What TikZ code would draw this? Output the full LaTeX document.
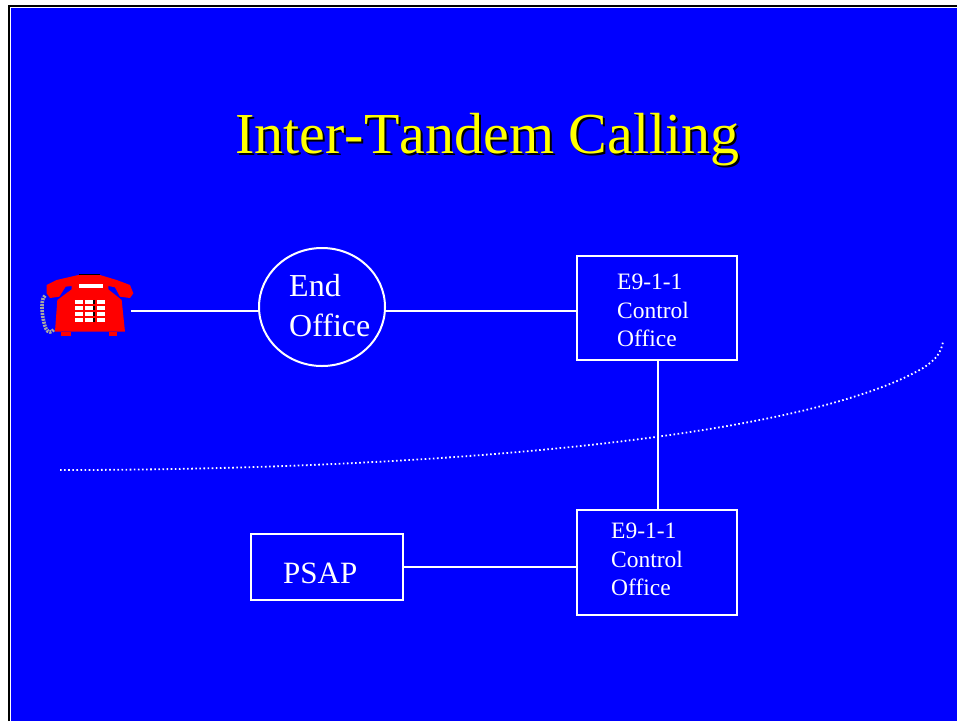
\documentclass[tikz,border=0pt]{standalone}
\usepackage{fontspec}
\setmainfont{Liberation Serif}
\newfontfamily\titlefont[Kerning=Off]{Liberation Serif}
\usetikzlibrary{shapes.geometric}

\definecolor{slideblue}{RGB}{0,0,255}
\definecolor{phonered}{RGB}{255,0,0}
\definecolor{titleyellow}{RGB}{255,255,0}

\tikzset{
    officebox/.style={draw=white, line width=2pt, inner sep=0pt},
    wire/.style={draw=white, line width=2pt},
    titletext/.style={font=\titlefont\fontsize{58}{60}\selectfont, anchor=base, inner sep=0pt},
    boxlabel/.style={text=white, font=\fontsize{23.5}{28.2}\selectfont, align=left, anchor=west, inner sep=0pt},
    biglabel/.style={text=white, font=\fontsize{32}{40}\selectfont, align=left, anchor=west, inner sep=0pt}
}

\begin{document}
\begin{tikzpicture}[x=1pt, y=-1pt]
    % Set box dimensions
    \pgfmathsetmacro{\boxwidth}{160}
    \pgfmathsetmacro{\boxheight}{104}

    \useasboundingbox (0,0) rectangle (957,721);

    % Draw slide background and frame
    \fill[white] (0,0) rectangle (957,721);
    \fill[slideblue] (11,8) rectangle (957,721);
    \draw[black, line width=2pt] (9,721) -- (9,6) -- (957,6);

    % Draw title with its shadow
    \node[titletext, text=black] at (489.5,155) (titleshadow) {Inter-Tandem Calling};
    \node[titletext, text=titleyellow] at (487.5,153) (title) {Inter-Tandem Calling};

    % Draw office shapes
    \node[officebox, ellipse, minimum width=126pt, minimum height=118pt] at (322,307) (endoffice) {};
    \node[officebox, minimum width=\boxwidth pt, minimum height=\boxheight pt] at (657,307.7) (upper) {};
    \node[officebox, minimum width=\boxwidth pt, minimum height=105pt] at (657,562.7) (lower) {};
    \node[officebox, minimum width=152pt, minimum height=66pt] at (327,567) (psap) {};

    % Draw labels inside the shapes
    \node[biglabel] at (289,306) (endlabel) {End\\Office};
    \node[boxlabel] at (617,310.5) (upperlabel) {E9-1-1\\Control\\Office};
    \node[boxlabel] at (611,559.5) (lowerlabel) {E9-1-1\\Control\\Office};
    \node[biglabel, font=\fontsize{31}{40}\selectfont] at (283,573) (psaplabel) {PSAP};

    % Draw connecting lines
    \coordinate (phone) at (131,311);
    \draw[wire] (phone) -- (endoffice.west |- phone);
    \draw[wire] (endoffice.east |- phone) -- (upper.west |- phone);
    \draw[wire] (upper.south -| 658,0) -- (lower.north -| 658,0);
    \draw[wire] (psap.east) -- (lower.west |- psap);

    % Draw dotted boundary
    \draw[white, line width=1.8pt, dash pattern=on 1.6pt off 2.5pt]
        (60,470) .. controls (420,470) and (800,440) .. (923,368)
        .. controls (937,359) and (941,352) .. (943,342);

    % Draw telephone
    \begin{scope}[shift={(20,250)}, x=0.3333pt, y=-0.3333pt]
        % Draw cord
        \draw[gray!70, line width=3.6pt, dash pattern=on 2pt off 1pt]
            (75,137) .. controls (58,150) and (68,215) .. (78,236) .. controls (85,250) and (95,248) .. (102,238);
        % Draw receiver and body
        \fill[black] (178,76) -- (240,76) -- (240,71) -- (178,71) -- cycle;
        \fill[phonered] (80,105) -- (110,90) -- (175,75) -- (240,75) -- (290,90) -- (330,105) -- (340,130)
            -- (330,144) -- (300,140) -- (285,112) -- (265,108) -- (155,108) -- (137,110) -- (118,140) -- (90,144) -- (80,130) -- cycle;
        \fill[phonered] (155,106) -- (265,106) -- (265,118) -- (305,150) -- (315,245) -- (105,245) -- (112,150) -- (155,118) -- cycle;
        \fill[phonered] (124,245) rectangle (154,258);
        \fill[phonered] (268,245) rectangle (292,258);
        \fill[white] (178,102) rectangle (248,113);
        % Draw keys
        \foreach \row in {150,168,186,204} {
            \foreach \col in {165,195,231} {
                \fill[white] (\col,\row) rectangle ++(25,12);
            }
            \fill[black] (220,\row) rectangle ++(6,12);
        }
    \end{scope}
\end{tikzpicture}
\end{document}
